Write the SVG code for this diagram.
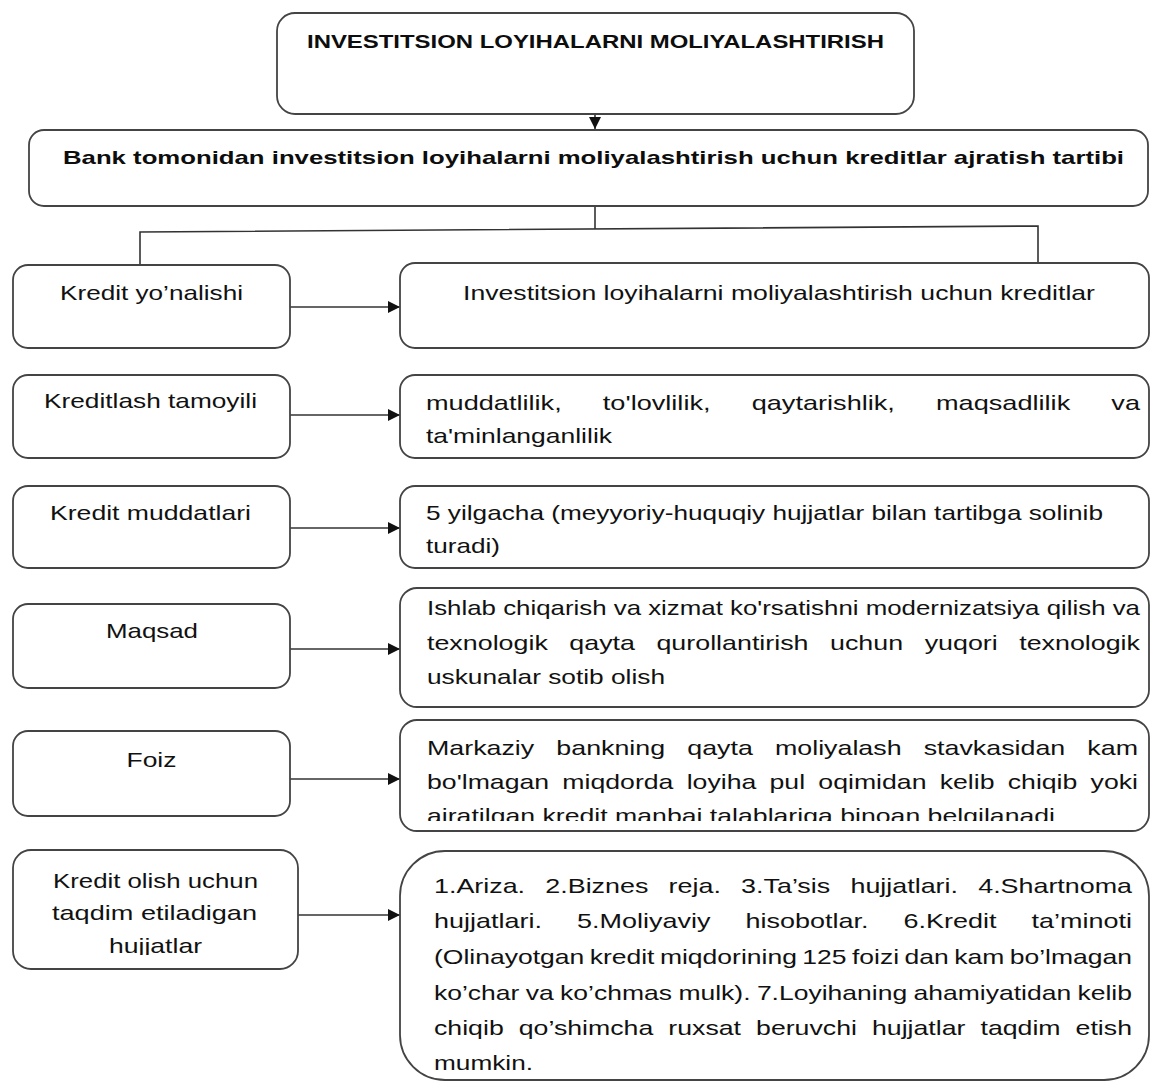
<svg xmlns="http://www.w3.org/2000/svg" width="1150" height="1081" viewBox="0 0 1150 1081">
<style>
.box{fill:#fff;stroke:#444;stroke-width:1.8}
.t{font-family:"Liberation Sans",Arial,sans-serif;font-size:21px;fill:#111}
.b{font-family:"Liberation Sans",Arial,sans-serif;font-size:19px;font-weight:bold;fill:#0d0d0d}
.c{fill:none;stroke:#333;stroke-width:1.6}
</style>
<defs>
<marker id="ah" markerWidth="12" markerHeight="12" refX="12" refY="6" orient="auto" markerUnits="userSpaceOnUse">
<path d="M0,0 L12,6 L0,12 Z" fill="#111"/>
</marker>
<clipPath id="clip5"><rect x="400" y="720" width="750" height="101"/></clipPath>
<clipPath id="clip6"><rect x="13" y="850" width="285" height="105"/></clipPath>
</defs>
<rect width="1150" height="1081" fill="#fff"/>

<g id="connectors">
<line class="c" x1="595" y1="114" x2="595" y2="129" marker-end="url(#ah)"/>
<polyline class="c" points="595,206 595,229"/>
<polyline class="c" points="140,265 140,232 1038,226 1038,263"/>
<line class="c" x1="290" y1="307" x2="400" y2="307" marker-end="url(#ah)"/>
<line class="c" x1="290" y1="415" x2="400" y2="415" marker-end="url(#ah)"/>
<line class="c" x1="290" y1="528" x2="400" y2="528" marker-end="url(#ah)"/>
<line class="c" x1="290" y1="649" x2="400" y2="649" marker-end="url(#ah)"/>
<line class="c" x1="290" y1="779" x2="400" y2="779" marker-end="url(#ah)"/>
<line class="c" x1="290" y1="915" x2="400" y2="915" marker-end="url(#ah)"/>
</g>

<g id="node-title">
<rect class="box" x="277" y="13" width="637" height="101" rx="18"/>
<text class="b" x="307" y="48" textLength="577" lengthAdjust="spacingAndGlyphs">INVESTITSION LOYIHALARNI MOLIYALASHTIRISH</text>
</g>

<g id="node-order">
<rect class="box" x="29" y="130" width="1119" height="76" rx="15"/>
<text class="b" x="63" y="164" textLength="1061" lengthAdjust="spacingAndGlyphs">Bank tomonidan investitsion loyihalarni moliyalashtirish uchun kreditlar ajratish tartibi</text>
</g>

<g id="node-l1">
<rect class="box" x="13" y="265" width="277" height="83" rx="15"/>
<text class="t" x="60" y="300" textLength="183" lengthAdjust="spacingAndGlyphs">Kredit yo’nalishi</text>
</g>
<g id="node-r1">
<rect class="box" x="400" y="263" width="749" height="85" rx="15"/>
<text class="t" x="463" y="300" textLength="632" lengthAdjust="spacingAndGlyphs">Investitsion loyihalarni moliyalashtirish uchun kreditlar</text>
</g>

<g id="node-l2">
<rect class="box" x="13" y="375" width="277" height="83" rx="15"/>
<text class="t" x="44" y="408" textLength="213" lengthAdjust="spacingAndGlyphs">Kreditlash tamoyili</text>
</g>
<g id="node-r2">
<rect class="box" x="400" y="375" width="749" height="83" rx="15"/>
<text class="t" x="426" y="410" textLength="714" lengthAdjust="spacingAndGlyphs" word-spacing="26">muddatlilik, to'lovlilik, qaytarishlik, maqsadlilik va</text>
<text class="t" x="426" y="443" textLength="186" lengthAdjust="spacingAndGlyphs">ta'minlanganlilik</text>
</g>

<g id="node-l3">
<rect class="box" x="13" y="486" width="277" height="82" rx="15"/>
<text class="t" x="50" y="520" textLength="201" lengthAdjust="spacingAndGlyphs">Kredit muddatlari</text>
</g>
<g id="node-r3">
<rect class="box" x="400" y="486" width="749" height="82" rx="15"/>
<text class="t" x="426" y="520" textLength="677" lengthAdjust="spacingAndGlyphs">5 yilgacha (meyyoriy-huquqiy hujjatlar bilan tartibga solinib</text>
<text class="t" x="426" y="553" textLength="74" lengthAdjust="spacingAndGlyphs">turadi)</text>
</g>

<g id="node-l4">
<rect class="box" x="13" y="604" width="277" height="84" rx="15"/>
<text class="t" x="106" y="638" textLength="92" lengthAdjust="spacingAndGlyphs">Maqsad</text>
</g>
<g id="node-r4">
<rect class="box" x="400" y="588" width="749" height="119" rx="17"/>
<text class="t" x="427" y="615" textLength="713" lengthAdjust="spacingAndGlyphs">Ishlab chiqarish va xizmat ko'rsatishni modernizatsiya qilish va</text>
<text class="t" x="427" y="650" textLength="713" lengthAdjust="spacingAndGlyphs" word-spacing="11">texnologik qayta qurollantirish uchun yuqori texnologik</text>
<text class="t" x="427" y="684" textLength="238" lengthAdjust="spacingAndGlyphs">uskunalar sotib olish</text>
</g>

<g id="node-l5">
<rect class="box" x="13" y="731" width="277" height="85" rx="15"/>
<text class="t" x="126.5" y="767" textLength="50" lengthAdjust="spacingAndGlyphs">Foiz</text>
</g>
<g id="node-r5">
<rect class="box" x="400" y="720" width="749" height="111" rx="17"/>
<text class="t" x="427" y="755" textLength="711" lengthAdjust="spacingAndGlyphs" word-spacing="11.5">Markaziy bankning qayta moliyalash stavkasidan kam</text>
<text class="t" x="427" y="789" textLength="711" lengthAdjust="spacingAndGlyphs" word-spacing="4.6">bo'lmagan miqdorda loyiha pul oqimidan kelib chiqib yoki</text>
<text class="t" x="427" y="823" textLength="628" lengthAdjust="spacingAndGlyphs" clip-path="url(#clip5)">ajratilgan kredit manbai talablariga binoan belgilanadi</text>
</g>

<g id="node-l6">
<rect class="box" x="13" y="850" width="285" height="119" rx="18"/>
<g clip-path="url(#clip6)">
<text class="t" x="53" y="888" textLength="205" lengthAdjust="spacingAndGlyphs">Kredit olish uchun</text>
<text class="t" x="52" y="920" textLength="205" lengthAdjust="spacingAndGlyphs">taqdim etiladigan</text>
<text class="t" x="109" y="953" textLength="93" lengthAdjust="spacingAndGlyphs">hujjatlar</text>
</g>
</g>
<g id="node-r6">
<rect class="box" x="400" y="851" width="749" height="229" rx="45"/>
<text class="t" x="434" y="893" textLength="698" lengthAdjust="spacingAndGlyphs" word-spacing="10">1.Ariza. 2.Biznes reja. 3.Ta’sis hujjatlari. 4.Shartnoma</text>
<text class="t" x="434" y="928" textLength="698" lengthAdjust="spacingAndGlyphs" word-spacing="21.5">hujjatlari. 5.Moliyaviy hisobotlar. 6.Kredit ta’minoti</text>
<text class="t" x="434" y="964" textLength="698" lengthAdjust="spacingAndGlyphs" word-spacing="-1.5">(Olinayotgan kredit miqdorining 125 foizi dan kam bo’lmagan</text>
<text class="t" x="434" y="1000" textLength="698" lengthAdjust="spacingAndGlyphs" word-spacing="-0.8">ko’char va ko’chmas mulk). 7.Loyihaning ahamiyatidan kelib</text>
<text class="t" x="434" y="1035" textLength="698" lengthAdjust="spacingAndGlyphs" word-spacing="6">chiqib qo’shimcha ruxsat beruvchi hujjatlar taqdim etish</text>
<text class="t" x="434" y="1070" textLength="99" lengthAdjust="spacingAndGlyphs">mumkin.</text>
</g>
</svg>
